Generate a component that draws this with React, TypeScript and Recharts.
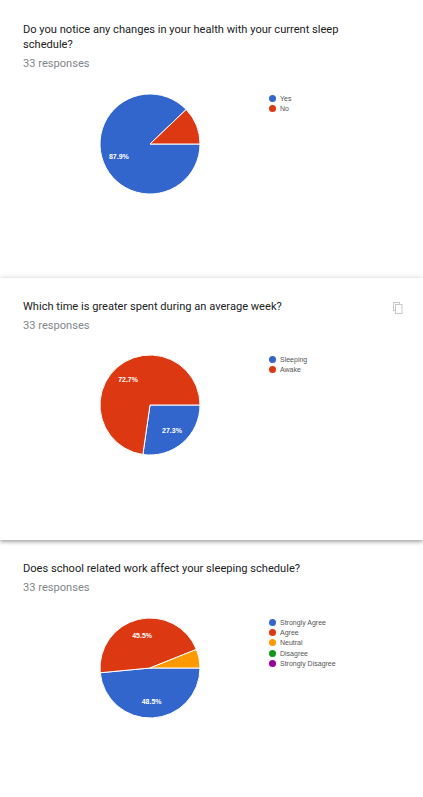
import React from "react";
import { PieChart, Pie, Cell, Legend } from "recharts";

// survey answers, 33 responses each
const healthLabels = ["Yes", "No"];
const healthCounts = [29, 4];

const weekLabels = ["Sleeping", "Awake"];
const weekCounts = [9, 24];

const schoolLabels = ["Strongly Agree", "Agree", "Neutral", "Disagree", "Strongly Disagree"];
const schoolCounts = [16, 15, 2, 0, 0];

const palette = ["#3366cc", "#dc3912", "#ff9900", "#109618", "#990099"];

const RADIAN = Math.PI / 180;

function renderPercent(props: any) {
  const { cx, cy, midAngle, outerRadius, percent } = props;
  // google hides the text on thin slices
  if (percent < 0.2) return null;
  const r = outerRadius * 0.67;
  const x = cx + r * Math.cos(-midAngle * RADIAN);
  const y = cy + r * Math.sin(-midAngle * RADIAN);
  return (
    <text
      x={x}
      y={y}
      fill="#ffffff"
      textAnchor="middle"
      dominantBaseline="central"
      fontSize={7}
      fontWeight="bold"
      fontFamily="Arial, 'Liberation Sans', sans-serif"
    >
      {(percent * 100).toFixed(1)}%
    </text>
  );
}

function LegendList({ labels }: { labels: string[] }) {
  return (
    <div style={{ fontFamily: "Arial, 'Liberation Sans', sans-serif", fontSize: 7, color: "#555" }}>
      {labels.map((l, i) => (
        <div key={l} style={{ display: "flex", alignItems: "center", height: 10.4 }}>
          <span
            style={{
              width: 7,
              height: 7,
              borderRadius: "50%",
              background: palette[i],
              marginRight: 4,
              display: "inline-block"
            }}
          />
          <span>{l}</span>
        </div>
      ))}
    </div>
  );
}

function CopyIcon() {
  return (
    <svg width={10} height={12} viewBox="0 0 10 12" style={{ position: "absolute", left: 393, top: 302 - 278 }}>
      <rect x={0.5} y={0.5} width={6} height={8} fill="none" stroke="#c8c8c8" strokeWidth={1} />
      <rect x={2.5} y={2.5} width={6.5} height={9} fill="#fff" stroke="#c8c8c8" strokeWidth={1} />
    </svg>
  );
}

interface CardProps {
  top: number;
  height: number;
  title: string[];
  titleTop: number;
  labels: string[];
  counts: number[];
  chartTop: number;
  raised?: boolean;
  children?: React.ReactNode;
}

function ResponseCard({ top, height, title, titleTop, labels, counts, chartTop, raised, children }: CardProps) {
  const data = labels.map((name, i) => ({ name, value: counts[i] }));
  return (
    <div
      style={{
        position: "absolute",
        left: 0,
        top,
        width: 423,
        height,
        background: "#fff",
        boxShadow: raised ? "0 2px 4px rgba(0,0,0,0.35), 0 -2px 6px rgba(0,0,0,0.06)" : "none",
        zIndex: raised ? 2 : 1
      }}
    >
      <div
        style={{
          position: "absolute",
          left: 23,
          top: titleTop,
          width: 380,
          fontFamily: "Roboto, sans-serif",
          fontSize: 11.1,
          lineHeight: "15px",
          color: "#202124"
        }}
      >
        {title.map((t) => (
          <div key={t}>{t}</div>
        ))}
        <div style={{ color: "#80868b", marginTop: 4 }}>33 responses</div>
      </div>
      {children}
      <div style={{ position: "absolute", left: 0, top: chartTop }}>
        <PieChart width={423} height={140} margin={{ top: 0, right: 0, bottom: 0, left: 0 }}>
          <Pie
            data={data}
            dataKey="value"
            nameKey="name"
            cx={150}
            cy={70}
            outerRadius={50}
            startAngle={0}
            endAngle={-360}
            stroke="#ffffff"
            strokeWidth={1}
            label={renderPercent}
            labelLine={false}
            isAnimationActive={false}
          >
            {data.map((d, i) => (
              <Cell key={d.name} fill={palette[i]} />
            ))}
          </Pie>
          <Legend
            layout="vertical"
            content={() => <LegendList labels={labels} />}
            wrapperStyle={{ left: 269, top: 19, width: 140 }}
          />
        </PieChart>
      </div>
    </div>
  );
}

export default function App() {
  return (
    <div style={{ position: "absolute", left: 0, top: 0, width: 423, height: 797, background: "#fff", overflow: "hidden" }}>
      <ResponseCard
        top={0}
        height={276}
        title={["Do you notice any changes in your health with your current sleep", "schedule?"]}
        titleTop={22}
        labels={healthLabels}
        counts={healthCounts}
        chartTop={74}
      />
      <ResponseCard
        top={278}
        height={262}
        title={["Which time is greater spent during an average week?"]}
        titleTop={21}
        labels={weekLabels}
        counts={weekCounts}
        chartTop={57}
        raised
      >
        <CopyIcon />
      </ResponseCard>
      <ResponseCard
        top={545}
        height={252}
        title={["Does school related work affect your sleeping schedule?"]}
        titleTop={16}
        labels={schoolLabels}
        counts={schoolCounts}
        chartTop={53}
      />
    </div>
  );
}
